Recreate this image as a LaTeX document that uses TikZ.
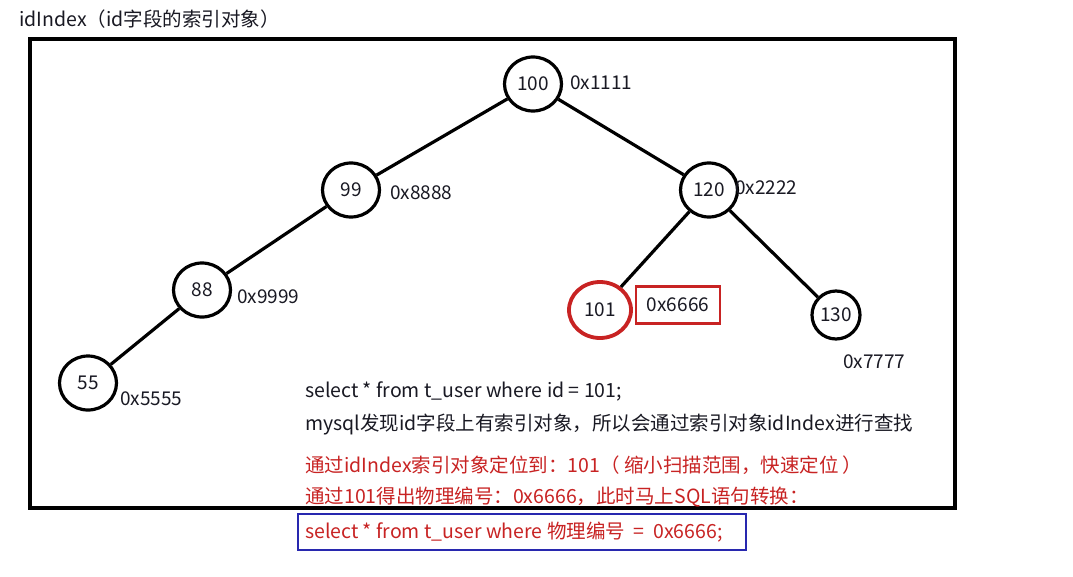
\documentclass[tikz,border=0pt]{standalone}
\usepackage{fontspec}
\setmainfont{Noto Sans CJK SC}
\usetikzlibrary{shapes.geometric}
\definecolor{myred}{RGB}{200,35,35}
\definecolor{myblue}{RGB}{40,40,175}
\definecolor{ink}{RGB}{25,25,35}
\begin{document}
\begin{tikzpicture}[x=1pt,y=-1pt,
  every node/.style={font=\fontsize{19}{23}\selectfont, text=ink, inner sep=0pt},
  tnode/.style={ellipse, draw=black, line width=3.2pt, minimum width=57pt, minimum height=54pt},
  edge/.style={draw=black, line width=3.2pt},
  lbl/.style={anchor=west},
  txt/.style={anchor=west, font=\fontsize{19.5}{23}\selectfont},
  rtxt/.style={txt, text=myred}]
\useasboundingbox (0,0) rectangle (1073,576);
\fill[white] (0,0) rectangle (1073,576);
% title
\node[lbl, font=\fontsize{19.5}{23}\selectfont] (title) at (19,19) {idIndex（id字段的索引对象）};
% frame
\draw[line width=3.4pt] (30,39) rectangle (955,508);
% tree nodes
\node[tnode] (n100) at (533,84) {100};
\node[tnode] (n99) at (351,190) {99};
\node[tnode] (n120) at (709,190) {120};
\node[tnode] (n88) at (202,290) {88};
\node[tnode] (n55) at (88,383) {55};
\node[tnode, draw=myred, line width=3.8pt, minimum width=62pt, minimum height=56pt] (n101) at (600,310) {101};
\node[tnode, minimum width=48pt, minimum height=48pt] (n130) at (836,315) {130};
% edges
\draw[edge] (n100) -- (n99);
\draw[edge] (n100) -- (n120);
\draw[edge] (n99) -- (n88);
\draw[edge] (n88) -- (n55);
\draw[edge] (n120) -- (n101);
\draw[edge] (n120) -- (n130);
% address labels
\node[lbl] (a100) at (570,83) {0x1111};
\node[lbl] (a99) at (390,193) {0x8888};
\node[lbl] (a120) at (735,188) {0x2222};
\node[lbl] (a88) at (237,297) {0x9999};
\node[lbl] (a55) at (120,399) {0x5555};
\node[draw=myred, line width=2.4pt, minimum width=84pt, minimum height=37pt] (a101) at (678,305) {0x6666};
\node[lbl] (a130) at (843,362) {0x7777};
% text block
\node[txt] (t1) at (305,391) {select * from t\_user where id = 101;};
\node[txt] (t2) at (305,425) {mysql发现id字段上有索引对象，所以会通过索引对象idIndex进行查找};
\node[rtxt] (t3) at (305,465) {通过idIndex索引对象定位到：101（ 缩小扫描范围，快速定位 ）};
\node[rtxt] (t4) at (305,497) {通过101得出物理编号：0x6666，此时马上SQL语句转换：};
\draw[myblue, line width=2.4pt] (298,514) rectangle (746,550);
\node[rtxt] (t5) at (305,532) {select * from t\_user where 物理编号\ \ =\ \ 0x6666;};
\end{tikzpicture}
\end{document}
